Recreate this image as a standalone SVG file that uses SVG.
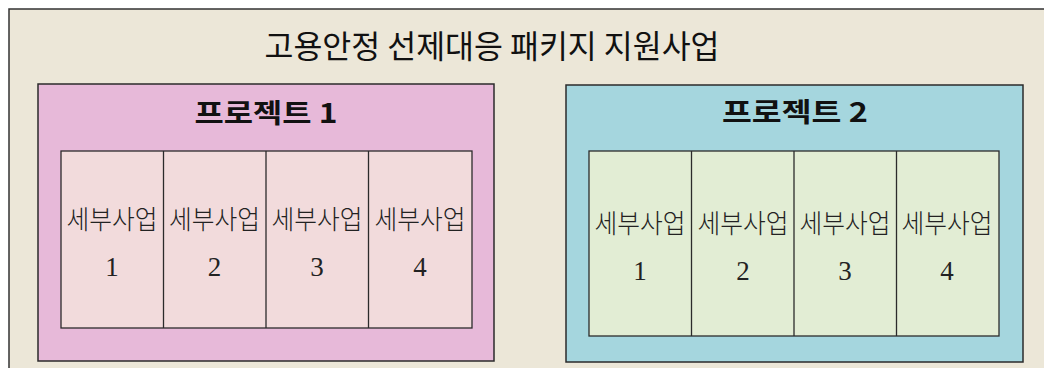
<svg xmlns="http://www.w3.org/2000/svg" width="1044" height="368" viewBox="0 0 1044 368">
<style>
.box{stroke:#2b2b2b;stroke-width:1.5}
.ttl{font-family:"Noto Sans CJK KR","Noto Sans",sans-serif;fill:#111}
.cell{stroke:#2b2b2b;stroke-width:1.3}
.k{font-family:"Noto Sans CJK KR",sans-serif;font-size:26px;font-weight:300;fill:#222;text-anchor:middle}
.n{font-family:"Liberation Serif",serif;font-size:27px;fill:#222;text-anchor:middle}
</style>
<rect width="1044" height="368" fill="#ffffff"/>
<g id="outer">
<rect x="9" y="9" width="1050" height="380" fill="#ECE7D8" stroke="#333" stroke-width="1.5"/>
<text class="ttl" x="492" y="58" font-size="32" font-weight="400" text-anchor="middle" textLength="455" lengthAdjust="spacingAndGlyphs">고용안정 선제대응 패키지 지원사업</text>
</g>
<g id="project1">
<rect class="box" x="38" y="84" width="456" height="277" fill="#E7B9D9"/>
<text class="ttl" x="266" y="123" font-size="27" font-weight="600" text-anchor="middle" textLength="143" lengthAdjust="spacingAndGlyphs">프로젝트 1</text>
<rect class="cell" x="61" y="151" width="411" height="177" fill="#F2DBDC"/>
<line class="cell" x1="163.5" y1="151" x2="163.5" y2="328"/>
<line class="cell" x1="266" y1="151" x2="266" y2="328"/>
<line class="cell" x1="368.5" y1="151" x2="368.5" y2="328"/>
</g>
<g id="p1-sub1"><text class="k" x="112" y="229" textLength="91" lengthAdjust="spacingAndGlyphs">세부사업</text><text class="n" x="112" y="276">1</text></g>
<g id="p1-sub2"><text class="k" x="214.5" y="229" textLength="91" lengthAdjust="spacingAndGlyphs">세부사업</text><text class="n" x="214.5" y="276">2</text></g>
<g id="p1-sub3"><text class="k" x="317" y="229" textLength="91" lengthAdjust="spacingAndGlyphs">세부사업</text><text class="n" x="317" y="276">3</text></g>
<g id="p1-sub4"><text class="k" x="420" y="229" textLength="91" lengthAdjust="spacingAndGlyphs">세부사업</text><text class="n" x="420" y="276">4</text></g>
<g id="project2">
<rect class="box" x="566" y="85" width="457" height="277" fill="#A5D6DE"/>
<text class="ttl" x="795" y="122" font-size="27" font-weight="600" text-anchor="middle" textLength="146" lengthAdjust="spacingAndGlyphs">프로젝트 2</text>
<rect class="cell" x="589" y="151" width="410" height="185" fill="#E2EDD4"/>
<line class="cell" x1="691.5" y1="151" x2="691.5" y2="336"/>
<line class="cell" x1="794" y1="151" x2="794" y2="336"/>
<line class="cell" x1="896.5" y1="151" x2="896.5" y2="336"/>
</g>
<g id="p2-sub1"><text class="k" x="640" y="233" textLength="91" lengthAdjust="spacingAndGlyphs">세부사업</text><text class="n" x="640" y="280">1</text></g>
<g id="p2-sub2"><text class="k" x="743" y="233" textLength="91" lengthAdjust="spacingAndGlyphs">세부사업</text><text class="n" x="743" y="280">2</text></g>
<g id="p2-sub3"><text class="k" x="845" y="233" textLength="91" lengthAdjust="spacingAndGlyphs">세부사업</text><text class="n" x="845" y="280">3</text></g>
<g id="p2-sub4"><text class="k" x="947" y="233" textLength="91" lengthAdjust="spacingAndGlyphs">세부사업</text><text class="n" x="947" y="280">4</text></g>
<g id="connectors"/>
</svg>
